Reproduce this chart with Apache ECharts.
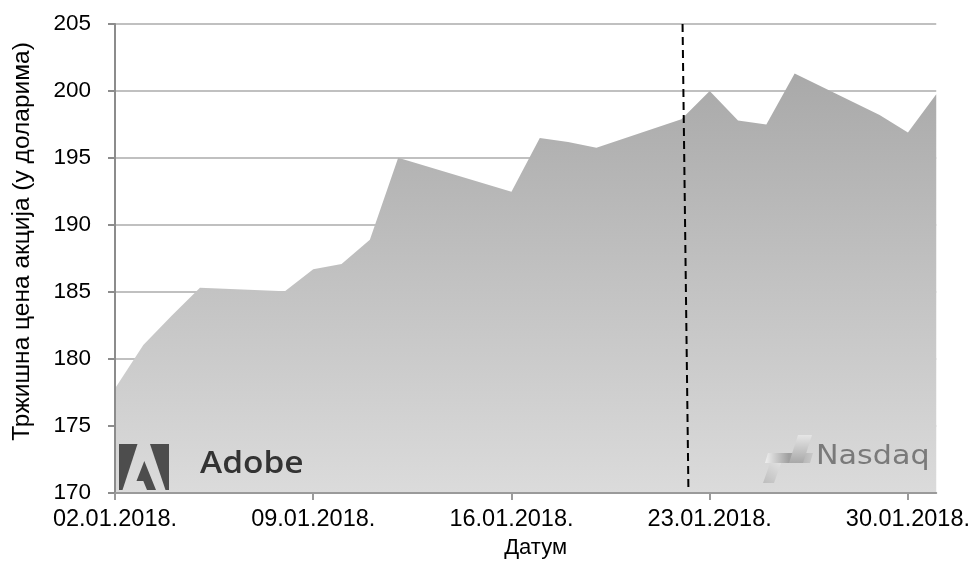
<!DOCTYPE html>
<html>
<head>
<meta charset="utf-8">
<title>Adobe — цена акција, јануар 2018.</title>
<script src="https://cdn.jsdelivr.net/npm/echarts@6/dist/echarts.min.js"></script>
<style>
  html, body { margin: 0; padding: 0; background: #fff; }
  #chart { width: 973px; height: 565px; }
</style>
</head>
<body>
<div id="chart"></div>
<script>
// Trading days of January 2018 and Adobe closing prices (USD)
var dates = [
  '2018-01-02', '2018-01-03', '2018-01-04', '2018-01-05',
  '2018-01-08', '2018-01-09', '2018-01-10', '2018-01-11', '2018-01-12',
  '2018-01-16', '2018-01-17', '2018-01-18', '2018-01-19',
  '2018-01-22', '2018-01-23', '2018-01-24', '2018-01-25', '2018-01-26',
  '2018-01-29', '2018-01-30', '2018-01-31'
];
var prices = [
  177.8, 181.04, 183.22, 185.32,
  185.05, 186.7, 187.09, 188.9, 195.02,
  192.49, 196.5, 196.2, 195.77,
  197.9, 200.0, 197.8, 197.5, 201.3,
  198.2, 196.9, 199.75
];
// Weekly date ticks on the x axis
var tickDates = ['2018-01-02', '2018-01-09', '2018-01-16', '2018-01-23', '2018-01-30'];
// Axis range
var startDate = '2018-01-02';
var endDate = '2018-01-31';
// Event marker (dashed line), top and bottom ends
var markerDates = ['2018-01-22T01:00:00Z', '2018-01-22T06:00:00Z'];
var priceMin = 170, priceMax = 205, priceStep = 5;

var DAY = 86400000;
function toTime(s) { return s.length === 10 ? Date.parse(s + 'T00:00:00Z') : Date.parse(s); }
var t0 = toTime(startDate);
function dayOffset(s) { return (toTime(s) - t0) / DAY; }
function fmtDay(v) {
  var d = new Date(t0 + Math.round(v) * DAY);
  var dd = ('0' + d.getUTCDate()).slice(-2);
  var mm = ('0' + (d.getUTCMonth() + 1)).slice(-2);
  return dd + '.' + mm + '.' + d.getUTCFullYear() + '.';
}

var seriesData = dates.map(function (d, i) { return [dayOffset(d), prices[i]]; });
var tickValues = tickDates.map(dayOffset);

var FONT = '"Liberation Sans", Arial, sans-serif';

var chart = echarts.init(document.getElementById('chart'), null, { renderer: 'canvas' });

chart.setOption({
  animation: false,
  backgroundColor: '#ffffff',
  grid: { left: 115, right: 36, top: 24, bottom: 72, containLabel: false },
  xAxis: {
    type: 'value',
    min: dayOffset(startDate),
    max: dayOffset(endDate),
    z: 5,
    name: 'Датум',
    nameLocation: 'middle',
    nameGap: 41,
    nameTextStyle: { fontFamily: FONT, fontSize: 22, color: '#000', padding: [0, 0, 0, 20] },
    axisLine: { show: true, lineStyle: { color: '#9a9a9a', width: 2 } },
    axisTick: { show: true, length: 7, lineStyle: { color: '#9a9a9a', width: 2 }, customValues: tickValues },
    axisLabel: {
      customValues: tickValues,
      formatter: fmtDay,
      fontFamily: FONT, fontSize: 23.5, color: '#000', margin: 15
    },
    splitLine: { show: false }
  },
  yAxis: [
    {
      type: 'value',
      min: priceMin, max: priceMax, interval: priceStep,
      name: 'Тржишна цена акција (у доларима)',
      nameLocation: 'middle',
      nameGap: 80,
      nameTextStyle: { fontFamily: FONT, fontSize: 24.5, color: '#000', padding: [0, 0, 0, 34] },
      axisLine: { show: false },
      axisTick: { show: false },
      axisLabel: { fontFamily: FONT, fontSize: 22.5, color: '#000', margin: 24 },
      splitLine: { show: true, lineStyle: { color: '#c0c0c0', width: 2 } }
    },
    {
      // axis line and ticks drawn above the filled area
      type: 'value',
      position: 'left',
      min: priceMin, max: priceMax, interval: priceStep,
      z: 5,
      axisLine: { show: true, lineStyle: { color: '#8c8c8c', width: 2 } },
      axisTick: { show: true, length: 7, lineStyle: { color: '#8c8c8c', width: 2 } },
      axisLabel: { show: false },
      splitLine: { show: false }
    }
  ],
  series: [{
    type: 'line',
    data: seriesData,
    yAxisIndex: 0,
    showSymbol: false,
    symbol: 'none',
    lineStyle: { width: 0 },
    areaStyle: {
      origin: 'start',
      opacity: 1,
      color: new echarts.graphic.LinearGradient(0, 0, 0, 1, [
        { offset: 0, color: '#a9a9a9' },
        { offset: 1, color: '#dbdbdb' }
      ])
    },
    silent: true,
    markLine: {
      silent: true,
      symbol: 'none',
      label: { show: false },
      lineStyle: { color: '#000', width: 2, type: [8, 5] },
      data: [[
        { coord: [dayOffset(markerDates[0]), priceMax] },
        { coord: [dayOffset(markerDates[1]), priceMin] }
      ]]
    }
  }],
  graphic: [
    // Adobe mark
    { type: 'polygon', z: 10, shape: { points: [[119, 444], [137.5, 444], [122.5, 490], [119, 490]] }, style: { fill: '#4d4d4d' } },
    { type: 'polygon', z: 10, shape: { points: [[150, 444], [169, 444], [169, 490], [165.5, 490]] }, style: { fill: '#4d4d4d' } },
    { type: 'polygon', z: 10, shape: { points: [[144.3, 461], [156, 490], [147, 490], [143.3, 481], [136.5, 481]] }, style: { fill: '#4d4d4d' } },
    {
      type: 'text', z: 10, left: 200, top: 449, scaleX: 1.08,
      style: { text: 'Adobe', fill: '#333333', font: '600 31px "Open Sans", "Liberation Sans", sans-serif' }
    },
    // Nasdaq mark
    {
      type: 'polygon', z: 10,
      shape: { points: [[763, 483], [774, 483], [784, 455], [773, 455]] },
      style: { fill: new echarts.graphic.LinearGradient(0, 1, 1, 0, [{ offset: 0, color: '#bdbdbd' }, { offset: 1, color: '#ececec' }]) }
    },
    {
      type: 'polygon', z: 10,
      shape: { points: [[768, 453], [813, 453], [810, 463], [765, 463]] },
      style: { fill: new echarts.graphic.LinearGradient(0, 0, 1, 0, [{ offset: 0, color: '#f0f0f0' }, { offset: 0.5, color: '#9e9e9e' }, { offset: 1, color: '#c8c8c8' }]) }
    },
    {
      type: 'polygon', z: 10,
      shape: { points: [[798, 435], [812, 435], [803, 463], [789, 463]] },
      style: { fill: new echarts.graphic.LinearGradient(0, 0, 0, 1, [{ offset: 0, color: '#e6e6e6' }, { offset: 1, color: '#a8a8a8' }]) }
    },
    {
      type: 'text', z: 10, left: 816, top: 444, scaleX: 1.16,
      style: { text: 'Nasdaq', fill: '#7a7a7a', font: '26px "DejaVu Sans", sans-serif' }
    }
  ]
});
</script>
</body>
</html>
